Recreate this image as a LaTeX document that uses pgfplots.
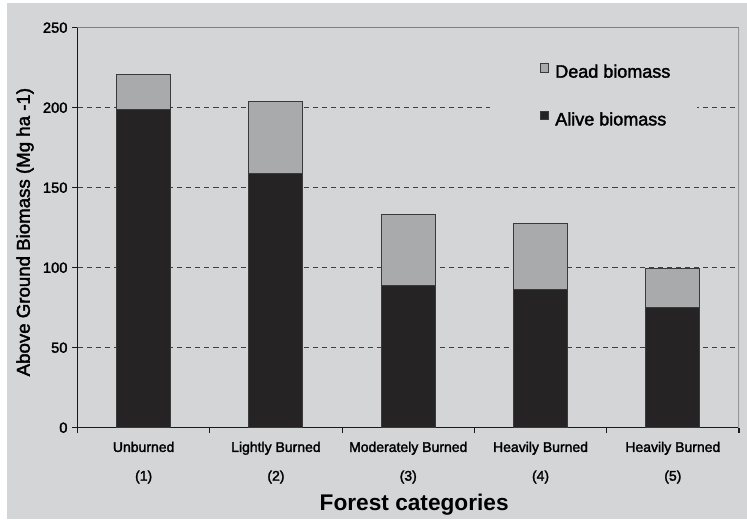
\documentclass[border=0pt]{standalone}
\usepackage{pgfplots}
\pgfplotsset{compat=1.18}
\usepackage{fontspec}
\setmainfont{Liberation Sans}
\newfontfamily\med{Liberation Sans}[FakeBold=2]
\definecolor{bg}{HTML}{D4D5D7}
\definecolor{dead}{HTML}{A9AAAC}
\definecolor{alive}{HTML}{252324}
\definecolor{edge}{HTML}{3A3A3A}
\begin{document}
\begin{tikzpicture}[x=1pt,y=1pt]
\useasboundingbox (0,0) rectangle (560.25,389.25);
\fill[bg] (0,0) rectangle (560.25,389.25);
\fill[white] (0,0) rectangle (5.25,389.25);
\fill[white] (0,387) rectangle (560.25,389.25);
\begin{axis}[
  at={(58.125pt,68.475pt)}, anchor=south west,
  scale only axis, width=496.125pt, height=300pt,
  xmin=0.5, xmax=5.5, ymin=0, ymax=250,
  axis x line*=bottom, axis y line*=left,
  axis line style={-, draw=black!90, line width=0.9pt},
  every outer x axis line/.append style={-},
  every outer y axis line/.append style={-},
  tick pos=left,
  tick align=outside,
  major tick length=4pt,
  tick style={draw=black!90, line width=0.8pt},
  ytick={0,50,100,150,200,250},
  xtick={0.5,1.5,2.5,3.5,4.5,5.5},
  xticklabels={,,,,,},
  extra x ticks={1,2,3,4,5},
  extra x tick labels={{Unburned\\[9pt](1)},{Lightly Burned\\[9pt](2)},{Moderately Burned\\[9pt](3)},{Heavily Burned\\[9pt](4)},{Heavily Burned\\[9pt](5)}},
  extra x tick style={major tick length=0pt, xticklabel style={align=center, yshift=-7pt, font=\med\fontsize{10.5}{12.6}\selectfont}},
  yticklabel style={font=\med\fontsize{11}{13}\selectfont},
  /pgf/number format/assume math mode=true,
  ymajorgrids,
  grid style={draw=black!75, line width=0.85pt, dash pattern=on 3.8pt off 3pt},
  ybar stacked, bar width=40.5pt,
  ylabel={Above Ground Biomass (Mg ha -1)},
  ylabel style={font=\med\fontsize{14}{16}\selectfont, at={(axis description cs:-0.0794,0.489)}, anchor=center},
  xlabel={Forest categories},
  xlabel style={font=\bfseries\fontsize{17}{20}\selectfont, at={(axis description cs:0.509,-0.193)}, anchor=center},
  legend style={at={(rel axis cs:0.6995,0.915)}, anchor=north west, fill=none, draw=none, inner sep=0pt, font=\med\fontsize{13.5}{16}\selectfont, row sep=20.5pt, /tikz/every odd column/.append style={column sep=2.5pt}},
  legend cell align=left,
  reverse legend,
  legend image code/.code={\draw[#1, line width=0.6pt] (0pt,0pt) rectangle (6pt,6.3pt);},
]
\addplot[fill=alive, draw=edge, line width=0.75pt] coordinates {(1,199) (2,159) (3,89) (4,86.5) (5,75)};
\addlegendentry{Alive biomass}
\addplot[fill=dead, draw=edge, line width=0.75pt] coordinates {(1,21.5) (2,45) (3,44) (4,41) (5,24.5)};
\addlegendentry{Dead biomass}
\fill[bg] (rel axis cs:0.6236,0.77) rectangle (rel axis cs:0.9365,0.83);
\draw[black!50, line width=0.8pt] (rel axis cs:0,1) -- (rel axis cs:1,1);
\draw[black!40, line width=0.8pt] (rel axis cs:1,1) -- (rel axis cs:1,0);
\end{axis}
\end{tikzpicture}
\end{document}
